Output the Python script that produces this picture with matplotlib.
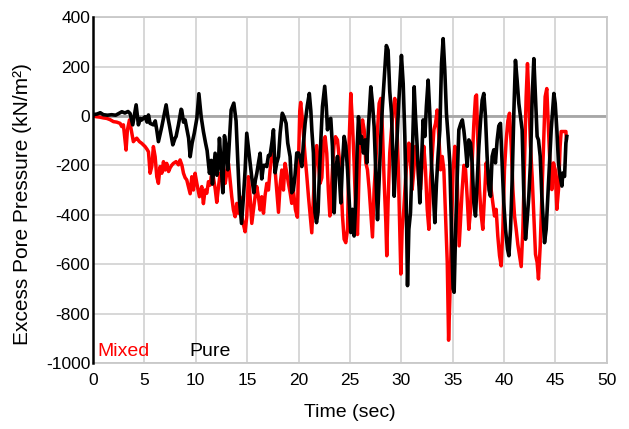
"""
excess pore pressure time history, mixed vs pure
"""

import matplotlib

matplotlib.use("Agg")
import matplotlib.pyplot as plt

# Mixed (red) series, time in sec and pressure in kN/m2
mixed_t = [
    0.0, 0.3, 0.68, 1.0, 1.33, 1.65, 1.98, 2.3, 2.63, 2.79, 2.95, 3.12, 3.21,
    3.34, 3.54, 3.77, 3.92, 4.1, 4.25, 4.51, 4.74, 5.06, 5.25, 5.39, 5.55,
    5.71, 5.87, 6.04, 6.2, 6.36, 6.52, 6.69, 6.85, 7.01, 7.17, 7.35, 7.5,
    7.65, 7.82, 8.08, 8.31, 8.47, 8.65, 8.8, 8.96, 9.12, 9.3, 9.45, 9.61,
    9.77, 9.93, 10.1, 10.35, 10.58, 10.74, 10.9, 11.07, 11.23, 11.39, 11.55,
    11.72, 11.9, 12.04, 12.2, 12.37, 12.53, 12.69, 12.86, 13.02, 13.18, 13.34,
    13.5, 13.66, 13.83, 13.99, 14.15, 14.31, 14.48, 14.64, 14.8, 14.96, 15.12,
    15.29, 15.45, 15.61, 15.77, 15.94, 16.1, 16.26, 16.42, 16.59, 16.75,
    16.91, 17.07, 17.23, 17.4, 17.56, 17.72, 17.88, 18.05, 18.21, 18.37,
    18.53, 18.69, 18.85, 19.02, 19.18, 19.34, 19.5, 19.7, 19.89, 20.02,
    20.12, 20.21, 20.34, 20.5, 20.64, 20.8, 20.97, 21.13, 21.29, 21.45, 21.6,
    21.77, 21.95, 22.1, 22.27, 22.45, 22.59, 22.75, 22.9, 23.05, 23.2, 23.3,
    23.45, 23.6, 23.79, 23.95, 24.12, 24.28, 24.44, 24.6, 24.77, 24.93,
    25.09, 25.25, 25.41, 25.58, 25.74, 25.9, 26.06, 26.23, 26.39, 26.55,
    26.71, 26.88, 27.04, 27.2, 27.36, 27.52, 27.69, 27.85, 28.01, 28.17,
    28.33, 28.5, 28.59, 28.72, 28.88, 29.05, 29.2, 29.37, 29.54, 29.7, 29.86,
    29.96, 30.09, 30.25, 30.42, 30.58, 30.74, 30.9, 31.06, 31.23, 31.39,
    31.55, 31.71, 31.88, 32.04, 32.2, 32.36, 32.53, 32.69, 32.85, 33.01,
    33.18, 33.34, 33.5, 33.66, 33.83, 33.99, 34.15, 34.31, 34.48, 34.61,
    34.74, 34.89, 35.05, 35.22, 35.38, 35.54, 35.64, 35.8, 35.93, 36.1,
    36.26, 36.42, 36.58, 36.75, 36.9, 37.07, 37.23, 37.33, 37.45, 37.62,
    37.78, 37.94, 38.1, 38.27, 38.43, 38.59, 38.75, 38.92, 39.08, 39.24,
    39.4, 39.57, 39.73, 39.89, 40.05, 40.22, 40.38, 40.54, 40.71, 40.87,
    41.03, 41.19, 41.35, 41.52, 41.68, 41.84, 42.0, 42.16, 42.29, 42.42,
    42.58, 42.75, 42.91, 43.07, 43.23, 43.36, 43.53, 43.69, 43.85, 44.01,
    44.17, 44.34, 44.5, 44.66, 44.82, 44.99, 45.15, 45.31, 45.47, 45.57,
    46.03, 46.07,
]
mixed_p = [
    0, -3, -5, -8, -10, -15, -23, -25, -30, -43, -36, -104, -138,
    -57, -16, -70, -104, -95, -90, -104, -111, -124, -135, -145, -232,
    -205, -124, -165, -246, -273, -205, -232, -185, -219, -192, -225, -210,
    -200, -192, -185, -198, -178, -200, -232, -250, -259, -290, -315, -246,
    -300, -232, -273, -327, -286, -355, -300, -313, -266, -280, -230,
    -250, -300, -350, -290, -232, -260, -205, -273, -230, -192, -260,
    -327, -380, -408, -354, -394, -327, -408, -440, -469, -408, -246,
    -330, -435, -380, -327, -286, -330, -381, -327, -394, -320,
    -273, -300, -219, -165, -115, -219, -300, -390, -280, -219,
    -300, -192, -230, -273, -310, -354, -300, -380, -410, -150,
    20, 55, 0, -90, -165, -240, -327, -400, -473, -327, -200,
    -120, -200, -273, -250, -100, -84, -151, -300, -405, -300, -218,
    -120, -84, -97, -165, -258, -405, -499, -513, -459, -100,
    91, -30, -190, -405, -480, -218, -70, -16, -56, -190,
    -218, -298, -392, -490, -298, -190, -56, 51, 71, -56,
    -258, -432, -566, -350, -150, -56, 20, 71, -3, -190, -459,
    -640, -459, -378, -258, -164, -110, -190, -298, -218, -123,
    -164, -271, -298, -190, -123, -218, -378, -459, -258, -164,
    -56, -30, 24, -83, -218, -164, -218, -405, -593, -908,
    -727, -459, -218, -123, -164, -378, -526, -400, -300, -200,
    -217, -330, -459, -380, -190, -30, 78, 85, -100, -298,
    -400, -459, -330, -190, -271, -231, -298, -352, -405, -378,
    -486, -566, -607, -459, -218, -97, -20, 11, -123, -298,
    -405, -459, -520, -566, -610, -459, -190, 78, 212, 78,
    -120, -250, -400, -560, -593, -660, -526, -325, -123, 78,
    111, -56, -218, -298, -190, -218, -378, -298, -123, -63,
    -63, -90,
]

# Pure (black) series
pure_t = [
    0.0, 0.4, 0.7, 1.0, 1.4, 1.8, 2.2, 2.5, 2.8, 3.1, 3.4, 3.6, 3.86, 4.19,
    4.41, 4.6, 4.74, 5.06, 5.25, 5.39, 5.55, 5.87, 6.05, 6.2, 6.36, 6.69,
    6.9, 7.11, 7.3, 7.45, 7.76, 7.98, 8.08, 8.31, 8.57, 8.63, 8.8, 8.96,
    9.12, 9.3, 9.45, 9.64, 9.85, 10.1, 10.3, 10.52, 10.74, 10.95, 11.1,
    11.33, 11.5, 11.62, 11.88, 12.05, 12.2, 12.3, 12.46, 12.63, 12.79,
    12.95, 13.11, 13.27, 13.44, 13.7, 13.92, 14.09, 14.25, 14.45, 14.64,
    14.8, 14.96, 15.12, 15.29, 15.45, 15.65, 15.8, 15.94, 16.1, 16.26,
    16.42, 16.59, 16.75, 16.91, 17.07, 17.23, 17.4, 17.56, 17.72, 17.88,
    18.05, 18.21, 18.42, 18.6, 18.79, 18.95, 19.18, 19.34, 19.5, 19.66,
    19.83, 20.0, 20.16, 20.32, 20.48, 20.64, 20.85, 21.05, 21.2, 21.3,
    21.45, 21.6, 21.75, 21.9, 22.0, 22.17, 22.33, 22.55, 22.7, 22.82,
    22.98, 23.14, 23.3, 23.47, 23.63, 23.79, 23.95, 24.12, 24.28, 24.44,
    24.6, 24.77, 24.93, 25.09, 25.25, 25.41, 25.58, 25.72, 25.84, 26.0,
    26.13, 26.32, 26.48, 26.65, 26.81, 27.04, 27.2, 27.36, 27.52, 27.69,
    27.85, 28.01, 28.17, 28.33, 28.55, 28.72, 28.88, 29.05, 29.21, 29.31,
    29.45, 29.6, 29.77, 30.02, 30.19, 30.35, 30.51, 30.61, 30.74, 30.9,
    31.06, 31.26, 31.39, 31.55, 31.81, 31.97, 32.13, 32.3, 32.45, 32.62,
    32.78, 32.94, 33.1, 33.27, 33.43, 33.6, 33.76, 33.92, 34.08, 34.24,
    34.4, 34.56, 34.73, 34.89, 35.05, 35.15, 35.28, 35.44, 35.61, 35.8,
    35.95, 36.1, 36.26, 36.42, 36.58, 36.75, 36.9, 37.07, 37.23, 37.4,
    37.56, 37.72, 37.88, 38.04, 38.2, 38.36, 38.55, 38.69, 38.85, 39.01,
    39.17, 39.34, 39.5, 39.66, 39.82, 39.98, 40.15, 40.35, 40.48, 40.64,
    40.8, 40.96, 41.12, 41.28, 41.45, 41.61, 41.77, 41.94, 42.1, 42.26,
    42.42, 42.58, 42.75, 42.91, 43.07, 43.23, 43.36, 43.53, 43.69, 43.95,
    44.11, 44.27, 44.43, 44.6, 44.86, 44.99, 45.15, 45.31, 45.47, 45.64,
    45.73, 45.9, 46.03, 46.12,
]
pure_p = [
    5, 8, 13, 5, 3, 5, 3, 10, 17, 12, 18, 10, -36, 45,
    -36, -10, -16, -3, -25, 4, -30, -36, -20, -57, -104, -43,
    0, 45, -10, -43, -117, -90, -83, -36, 27, 24, -25, -16,
    -50, -90, -165, -110, -70, -10, 90, -3, -63, -110, -140,
    -232, -180, -276, -151, -240, -200, -90, -190, -311, -80,
    -124, -218, -97, 24, 52, -20, -190, -340, -435, -327,
    -220, -70, -130, -192, -250, -311, -260, -232, -190, -151,
    -255, -200, -200, -205, -160, -160, -111, -56, -230, -190,
    -165, -70, 11, -5, -30, -110, -165, -311, -300, -240,
    -150, -150, -170, -205, -110, -30, 40, 91, 20, -60,
    -150, -390, -432, -390, -271, -100, 38, 120, 40, -56,
    -16, -10, -123, -392, -218, -164, -231, -352, -190, -83,
    -120, -218, -340, -472, -378, -486, -338, -120, -3, -110,
    -83, -150, -97, -190, -43, 118, 51, -43, -231, -420,
    -258, -83, 40, 145, 285, 266, 100, 11, -190, -325,
    -200, -83, 64, 245, 131, -83, -405, -687, -459, -392,
    -190, 118, -3, -123, -352, -190, -16, -83, 40, 145,
    11, -190, -300, -432, -272, -150, -56, 212, 313, 185,
    11, -80, -190, -459, -700, -714, -486, -258, -56, -30,
    -16, -60, -123, -204, -97, -110, -190, -352, -405, -260,
    -123, -20, 64, 91, -3, -164, -300, -325, -164, -137,
    -190, -97, -40, -30, -190, -350, -459, -540, -566, -459,
    -258, 11, 225, 145, 50, -3, -56, -325, -499, -420,
    -325, -190, 78, 232, 78, -83, -97, -164, -325, -513,
    -459, -325, -190, -56, 91, 51, -56, -190, -245, -284,
    -231, -245, -110, -83,
]

x_ticks = [0, 5, 10, 15, 20, 25, 30, 35, 40, 45, 50]
y_ticks = [-1000, -800, -600, -400, -200, 0, 200, 400]

plt.rcParams["font.family"] = ["Liberation Sans", "DejaVu Sans"]
plt.rcParams["axes.unicode_minus"] = False

fig = plt.figure(figsize=(6.29, 4.29), dpi=100)
ax = fig.add_axes([0.148, 0.154, 0.8165, 0.806])

ax.plot(mixed_t, mixed_p, color="#ff0000", lw=2.5, zorder=3)
ax.plot(pure_t, pure_p, color="#000000", lw=2.6, zorder=4)

ax.axhline(0, color="#a6a6a6", lw=2.0, zorder=2)

ax.set_xlim(0, 50)
ax.set_ylim(-1000, 400)
ax.set_xticks(x_ticks)
ax.set_yticks(y_ticks)
ax.grid(color="#d4d4d4", lw=1.3, zorder=1)
ax.set_axisbelow(True)

for side in ["top", "right", "bottom"]:
    ax.spines[side].set_color("#c8c8c8")
    ax.spines[side].set_linewidth(1.3)
ax.spines["left"].set_color("black")
ax.spines["left"].set_linewidth(1.8)
ax.spines["left"].set_zorder(5)

ax.tick_params(axis="both", length=0, labelsize=12.5, colors="black")
ax.tick_params(axis="x", pad=7)
ax.tick_params(axis="y", pad=2)

ax.set_xlabel("Time (sec)", fontsize=14, labelpad=12)
ax.set_ylabel("Excess Pore Pressure (kN/m²)", fontsize=15)
ax.yaxis.set_label_coords(-0.118, 0.46)

ax.text(0.45, -955, "Mixed", color="#ff0000", fontsize=14, va="center", zorder=6)
ax.text(9.4, -955, "Pure", color="black", fontsize=14, va="center", zorder=6)

plt.savefig("out.png", dpi=100)
